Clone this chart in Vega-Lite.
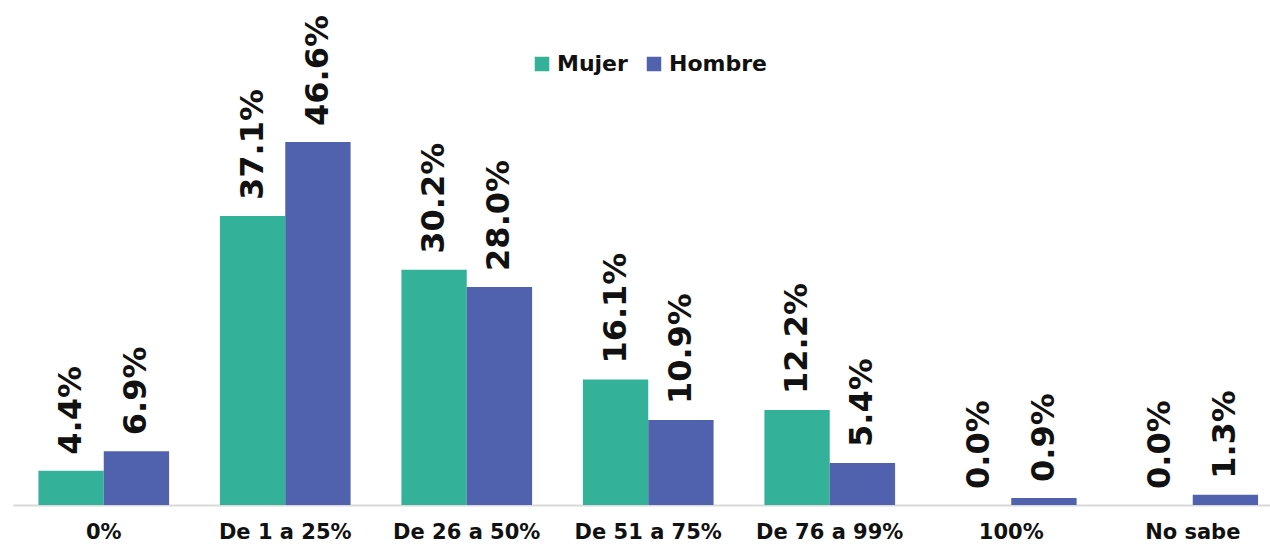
{
  "$schema": "https://vega.github.io/schema/vega-lite/v6.json",
  "width": 1257,
  "height": 505,
  "autosize": {"type": "none"},
  "padding": {"left": 13, "top": 0, "right": 0, "bottom": 41},
  "background": "white",
  "config": {
    "view": {"stroke": null},
    "font": "DejaVu Sans"
  },
  "data": {
    "values": [
      {"cat": "0%", "sexo": "Mujer", "v": 4.4, "lbl": "4.4%"},
      {"cat": "0%", "sexo": "Hombre", "v": 6.9, "lbl": "6.9%"},
      {"cat": "De 1 a 25%", "sexo": "Mujer", "v": 37.1, "lbl": "37.1%"},
      {"cat": "De 1 a 25%", "sexo": "Hombre", "v": 46.6, "lbl": "46.6%"},
      {"cat": "De 26 a 50%", "sexo": "Mujer", "v": 30.2, "lbl": "30.2%"},
      {"cat": "De 26 a 50%", "sexo": "Hombre", "v": 28.0, "lbl": "28.0%"},
      {"cat": "De 51 a 75%", "sexo": "Mujer", "v": 16.1, "lbl": "16.1%"},
      {"cat": "De 51 a 75%", "sexo": "Hombre", "v": 10.9, "lbl": "10.9%"},
      {"cat": "De 76 a 99%", "sexo": "Mujer", "v": 12.2, "lbl": "12.2%"},
      {"cat": "De 76 a 99%", "sexo": "Hombre", "v": 5.4, "lbl": "5.4%"},
      {"cat": "100%", "sexo": "Mujer", "v": 0.0, "lbl": "0.0%"},
      {"cat": "100%", "sexo": "Hombre", "v": 0.9, "lbl": "0.9%"},
      {"cat": "No sabe", "sexo": "Mujer", "v": 0.0, "lbl": "0.0%"},
      {"cat": "No sabe", "sexo": "Hombre", "v": 1.3, "lbl": "1.3%"}
    ]
  },
  "encoding": {
    "x": {
      "field": "cat",
      "type": "nominal",
      "sort": null,
      "scale": {"range": [0, 1270.5], "paddingInner": 0.28, "paddingOuter": 0.14},
      "axis": {
        "title": null,
        "labelAngle": 0,
        "ticks": false,
        "labelFontSize": 21,
        "labelFontWeight": "bold",
        "labelColor": "#111111",
        "labelPadding": 16,
        "domainColor": "#D9D9D9",
        "domainWidth": 2
      }
    },
    "xOffset": {
      "field": "sexo",
      "type": "nominal",
      "sort": ["Mujer", "Hombre"],
      "scale": {"paddingInner": 0, "paddingOuter": 0}
    },
    "y": {
      "field": "v",
      "type": "quantitative",
      "scale": {"domain": [0, 64.83], "nice": false, "zero": true},
      "axis": null
    }
  },
  "layer": [
    {
      "mark": {"type": "bar"},
      "encoding": {
        "color": {
          "field": "sexo",
          "type": "nominal",
          "sort": ["Mujer", "Hombre"],
          "scale": {"domain": ["Mujer", "Hombre"], "range": ["#34B299", "#5062AE"]},
          "legend": {
            "title": null,
            "orient": "none",
            "direction": "horizontal",
            "legendX": 518,
            "legendY": 53,
            "symbolType": "square",
            "symbolSize": 210,
            "symbolStrokeWidth": 0,
            "symbolOpacity": 1,
            "labelFontSize": 22,
            "labelFontWeight": "bold",
            "labelColor": "#111111",
            "labelOffset": 4,
            "columnPadding": 15,
            "padding": 0
          }
        }
      }
    },
    {
      "mark": {
        "type": "text",
        "angle": 270,
        "align": "left",
        "baseline": "middle",
        "dx": 16,
        "fontSize": 32,
        "fontWeight": "bold",
        "color": "#111111"
      },
      "encoding": {
        "text": {"field": "lbl", "type": "nominal"}
      }
    }
  ]
}
